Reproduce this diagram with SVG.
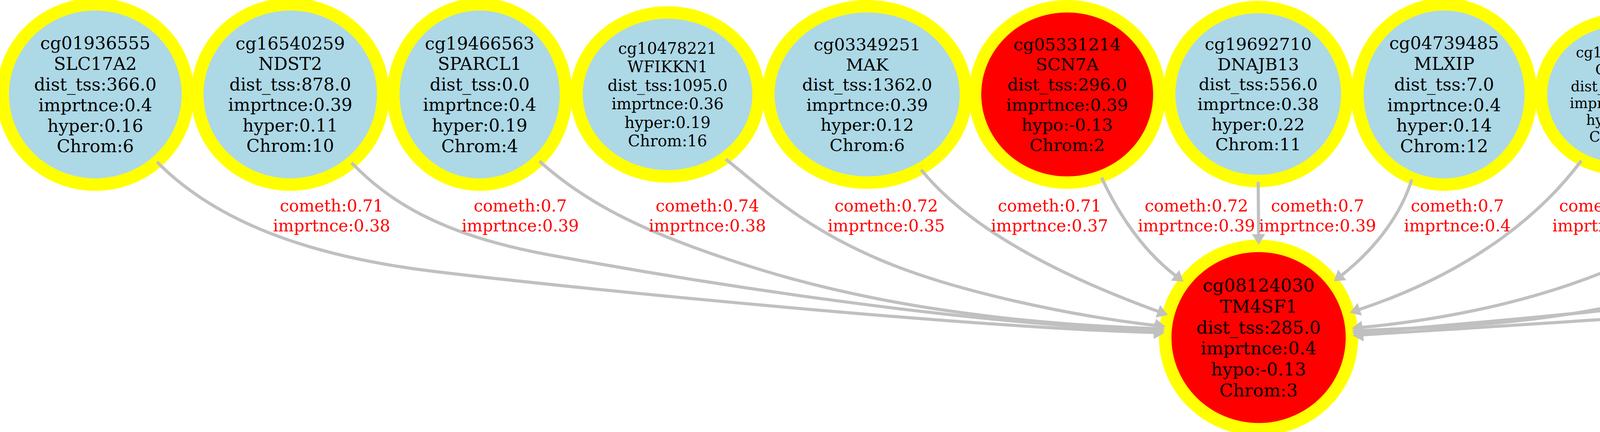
<svg xmlns="http://www.w3.org/2000/svg" width="6186" height="1107" viewBox="0 0 6186 1107">
<style>
.nd{stroke:#ffff00;stroke-width:32}
.bl{fill:#add8e6}
.rd{fill:#ff0000}
.t{font-family:"DejaVu Serif","Liberation Serif",serif;text-anchor:middle;fill:#000000}
.e{fill:none;stroke:#c0c0c0;stroke-width:8;marker-end:url(#arr)}
.lb{font-family:"DejaVu Serif","Liberation Serif",serif;text-anchor:middle;fill:#ff0000;font-size:42px}
</style>
<defs>
<marker id="arr" markerUnits="userSpaceOnUse" viewBox="0 0 40 40" markerWidth="40" markerHeight="40" refX="1" refY="20" orient="auto" overflow="visible">
<path d="M0,3 L27,20 L0,37 Z" fill="#c0c0c0"/>
</marker>
</defs>
<rect width="6186" height="1107" fill="#ffffff"/>
<g id="nodes">
<g id="n_cg01936555">
<ellipse class="nd bl" cx="244" cy="242" rx="237" ry="231"/>
<text class="t" font-size="44.8"><tspan x="244" y="125.9">cg01936555</tspan><tspan x="244" y="178.8">SLC17A2</tspan><tspan x="244" y="231.7">dist_tss:366.0</tspan><tspan x="244" y="284.6">imprtnce:0.4</tspan><tspan x="244" y="337.5">hyper:0.16</tspan><tspan x="244" y="390.4">Chrom:6</tspan></text>
</g>
<g id="n_cg16540259">
<ellipse class="nd bl" cx="743" cy="242" rx="238" ry="231"/>
<text class="t" font-size="44.5"><tspan x="743" y="126.8">cg16540259</tspan><tspan x="743" y="179.3">NDST2</tspan><tspan x="743" y="231.8">dist_tss:878.0</tspan><tspan x="743" y="284.3">imprtnce:0.39</tspan><tspan x="743" y="336.8">hyper:0.11</tspan><tspan x="743" y="389.3">Chrom:10</tspan></text>
</g>
<g id="n_cg19466563">
<ellipse class="nd bl" cx="1228" cy="242" rx="221" ry="231"/>
<text class="t" font-size="44.6"><tspan x="1228" y="126.6">cg19466563</tspan><tspan x="1228" y="179.2">SPARCL1</tspan><tspan x="1228" y="231.8">dist_tss:0.0</tspan><tspan x="1228" y="284.4">imprtnce:0.4</tspan><tspan x="1228" y="337">hyper:0.19</tspan><tspan x="1228" y="389.6">Chrom:4</tspan></text>
</g>
<g id="n_cg10478221">
<ellipse class="nd bl" cx="1709" cy="242" rx="233" ry="210"/>
<text class="t" font-size="40.2"><tspan x="1709" y="138">cg10478221</tspan><tspan x="1709" y="185.4">WFIKKN1</tspan><tspan x="1709" y="232.8">dist_tss:1095.0</tspan><tspan x="1709" y="280.2">imprtnce:0.36</tspan><tspan x="1709" y="327.6">hyper:0.19</tspan><tspan x="1709" y="375">Chrom:16</tspan></text>
</g>
<g id="n_cg03349251">
<ellipse class="nd bl" cx="2220" cy="242" rx="253" ry="226"/>
<text class="t" font-size="43.6"><tspan x="2220" y="129">cg03349251</tspan><tspan x="2220" y="180.5">MAK</tspan><tspan x="2220" y="232">dist_tss:1362.0</tspan><tspan x="2220" y="283.5">imprtnce:0.39</tspan><tspan x="2220" y="335">hyper:0.12</tspan><tspan x="2220" y="386.5">Chrom:6</tspan></text>
</g>
<g id="n_cg05331214">
<ellipse class="nd rd" cx="2732" cy="242" rx="236" ry="226"/>
<text class="t" font-size="43.7"><tspan x="2732" y="128.7">cg05331214</tspan><tspan x="2732" y="180.3">SCN7A</tspan><tspan x="2732" y="231.9">dist_tss:296.0</tspan><tspan x="2732" y="283.5">imprtnce:0.39</tspan><tspan x="2732" y="335.1">hypo:-0.13</tspan><tspan x="2732" y="386.7">Chrom:2</tspan></text>
</g>
<g id="n_cg19692710">
<ellipse class="nd bl" cx="3221" cy="241" rx="228" ry="223"/>
<text class="t" font-size="43.5"><tspan x="3221" y="128.4">cg19692710</tspan><tspan x="3221" y="179.7">DNAJB13</tspan><tspan x="3221" y="231">dist_tss:556.0</tspan><tspan x="3221" y="282.3">imprtnce:0.38</tspan><tspan x="3221" y="333.6">hyper:0.22</tspan><tspan x="3221" y="384.9">Chrom:11</tspan></text>
</g>
<g id="n_cg04739485">
<ellipse class="nd bl" cx="3697" cy="242" rx="222" ry="231"/>
<text class="t" font-size="44.7"><tspan x="3697" y="126.1">cg04739485</tspan><tspan x="3697" y="178.9">MLXIP</tspan><tspan x="3697" y="231.7">dist_tss:7.0</tspan><tspan x="3697" y="284.5">imprtnce:0.4</tspan><tspan x="3697" y="337.3">hyper:0.14</tspan><tspan x="3697" y="390.1">Chrom:12</tspan></text>
</g>
<g id="n_cg10704545">
<ellipse class="nd bl" cx="4149" cy="242" rx="204" ry="191"/>
<text class="t" font-size="36.5"><tspan x="4149" y="147.4">cg10704545</tspan><tspan x="4149" y="190.5">GLRX2</tspan><tspan x="4149" y="233.6">dist_tss:346.0</tspan><tspan x="4149" y="276.7">imprtnce:0.33</tspan><tspan x="4149" y="319.8">hyper:0.1</tspan><tspan x="4149" y="362.9">Chrom:1</tspan></text>
</g>
<g id="n_cg10159529">
<ellipse class="nd bl" cx="4592" cy="241" rx="213" ry="206"/>
<text class="t" font-size="39.5"><tspan x="4592" y="138.7">cg10159529</tspan><tspan x="4592" y="185.3">IL5RA</tspan><tspan x="4592" y="231.9">dist_tss:499.0</tspan><tspan x="4592" y="278.5">imprtnce:0.35</tspan><tspan x="4592" y="325.1">hyper:0.15</tspan><tspan x="4592" y="371.7">Chrom:3</tspan></text>
</g>
<g id="n_cg20427865">
<ellipse class="nd bl" cx="5052" cy="242" rx="221" ry="231"/>
<text class="t" font-size="44.6"><tspan x="5052" y="126.6">cg20427865</tspan><tspan x="5052" y="179.2">CX3CL1</tspan><tspan x="5052" y="231.8">dist_tss:61.0</tspan><tspan x="5052" y="284.4">imprtnce:0.4</tspan><tspan x="5052" y="337">hyper:0.18</tspan><tspan x="5052" y="389.6">Chrom:16</tspan></text>
</g>
<g id="n_cg12514506">
<ellipse class="nd bl" cx="5523" cy="241" rx="223" ry="236"/>
<text class="t" font-size="45"><tspan x="5523" y="124.5">cg12514506</tspan><tspan x="5523" y="177.6">OSBPL5</tspan><tspan x="5523" y="230.7">dist_tss:nan</tspan><tspan x="5523" y="283.8">imprtnce:0.4</tspan><tspan x="5523" y="336.9">hyper:0.09</tspan><tspan x="5523" y="390">Chrom:11</tspan></text>
</g>
<g id="n_cg18003698">
<ellipse class="nd bl" cx="5976" cy="242" rx="204" ry="193"/>
<text class="t" font-size="37.1"><tspan x="5976" y="145.9">cg18003698</tspan><tspan x="5976" y="189.7">GNRHR</tspan><tspan x="5976" y="233.5">dist_tss:716.0</tspan><tspan x="5976" y="277.3">imprtnce:0.33</tspan><tspan x="5976" y="321.1">hyper:0.13</tspan><tspan x="5976" y="364.9">Chrom:4</tspan></text>
</g>
<g id="n_cg08124030">
<ellipse class="nd rd" cx="3222" cy="865" rx="239" ry="235"/>
<text class="t" font-size="45.5"><tspan x="3222" y="747.1">cg08124030</tspan><tspan x="3222" y="800.8">TM4SF1</tspan><tspan x="3222" y="854.5">dist_tss:285.0</tspan><tspan x="3222" y="908.2">imprtnce:0.4</tspan><tspan x="3222" y="961.9">hypo:-0.13</tspan><tspan x="3222" y="1015.6">Chrom:3</tspan></text>
</g>
</g>
<g id="edges">
<g id="e1"><path class="e" d="M402,415 C530,545 740,650 1107,695 C1500,743 2500,840 2955,852"/><text class="lb"><tspan x="849" y="542">cometh:0.71</tspan><tspan x="849" y="593">imprtnce:0.38</tspan></text></g>
<g id="e2"><path class="e" d="M900,417 C990,510 1120,600 1400,652 C1800,726 2450,828 2955,847"/><text class="lb"><tspan x="1332" y="542">cometh:0.7</tspan><tspan x="1332" y="593">imprtnce:0.39</tspan></text></g>
<g id="e3"><path class="e" d="M1381,413 C1500,520 1650,600 1950,692 C2250,784 2600,830 2956,842"/><text class="lb"><tspan x="1811" y="542">cometh:0.74</tspan><tspan x="1811" y="593">imprtnce:0.38</tspan></text></g>
<g id="e4"><path class="e" d="M1858,408 C1950,480 2050,580 2256,667 C2450,749 2750,810 2958,834"/><text class="lb"><tspan x="2269" y="542">cometh:0.72</tspan><tspan x="2269" y="593">imprtnce:0.35</tspan></text></g>
<g id="e5"><path class="e" d="M2358,435 C2440,535 2600,665 2965,798"/><text class="lb"><tspan x="2687" y="542">cometh:0.71</tspan><tspan x="2687" y="593">imprtnce:0.37</tspan></text></g>
<g id="e6"><path class="e" d="M2820,455 C2850,520 2910,630 3009,706"/><text class="lb"><tspan x="3063" y="542">cometh:0.72</tspan><tspan x="3063" y="593">imprtnce:0.39</tspan></text></g>
<g id="e7"><path class="e" d="M3221,466 L3222,601"/><text class="lb"><tspan x="3373" y="542">cometh:0.7</tspan><tspan x="3373" y="593">imprtnce:0.39</tspan></text></g>
<g id="e8"><path class="e" d="M3614,460 C3590,540 3530,630 3435,705"/><text class="lb"><tspan x="3731" y="542">cometh:0.7</tspan><tspan x="3731" y="593">imprtnce:0.4</tspan></text></g>
<g id="e9"><path class="e" d="M4048,412 C3960,530 3790,690 3480,793"/><text class="lb"><tspan x="4124" y="542">cometh:0.71</tspan><tspan x="4124" y="593">imprtnce:0.39</tspan></text></g>
<g id="e10"><path class="e" d="M4476,418 C4390,610 4000,790 3486,839"/><text class="lb"><tspan x="4538" y="542">cometh:0.68</tspan><tspan x="4538" y="593">imprtnce:0.4</tspan></text></g>
<g id="e11"><path class="e" d="M4909,424 C4840,530 4700,625 4362,727 C4000,836 3700,836 3487,847"/><text class="lb"><tspan x="4971" y="542">cometh:0.72</tspan><tspan x="4971" y="593">imprtnce:0.39</tspan></text></g>
<g id="e12"><path class="e" d="M5375,422 C5310,510 5200,580 4997,645 C4700,746 4100,800 3488,852"/><text class="lb"><tspan x="5438" y="542">cometh:0.71</tspan><tspan x="5438" y="593">imprtnce:0.38</tspan></text></g>
<g id="e13"><path class="e" d="M5856,402 C5780,540 5620,610 5361,676 C5000,768 4300,806 3489,858"/><text class="lb"><tspan x="5902" y="542">cometh:0.71</tspan><tspan x="5902" y="593">imprtnce:0.39</tspan></text></g>
</g>
</svg>
